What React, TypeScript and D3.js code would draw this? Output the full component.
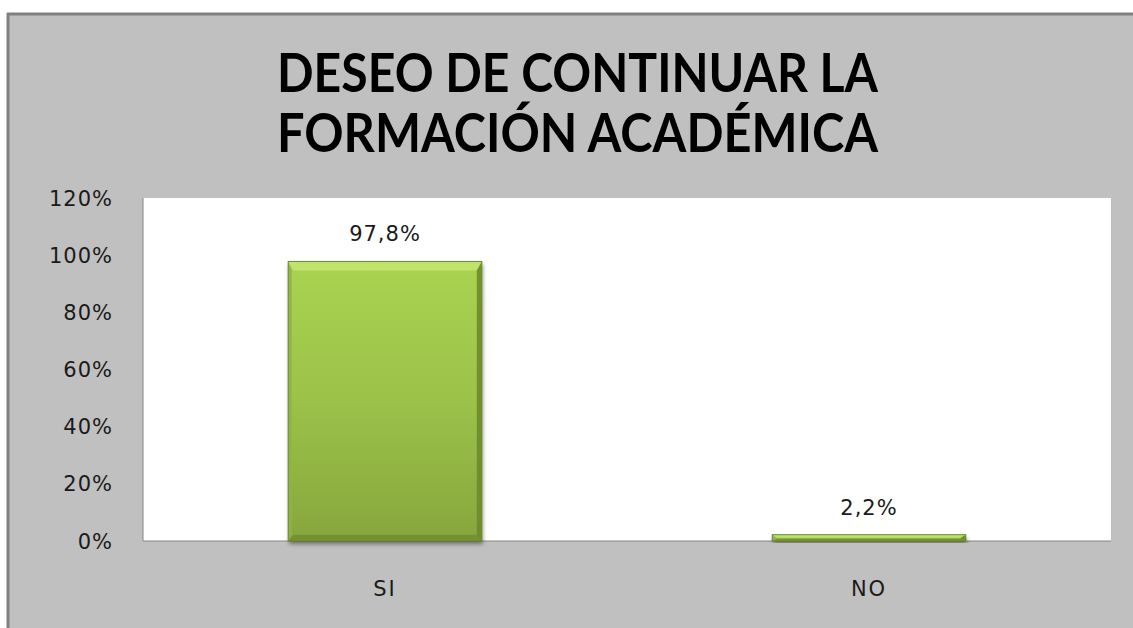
import React from "react";
import * as d3 from "d3";

const categories = ["SI", "NO"];
const values = [97.8, 2.2];
const valueLabels = ["97,8%", "2,2%"];
const yTicks = [0, 20, 40, 60, 80, 100, 120];
const titleLines = ["DESEO DE CONTINUAR LA", "FORMACIÓN ACADÉMICA"];

export default function App() {
  const width = 1133;
  const height = 628;
  const plot = { left: 143, right: 1111, top: 198, bottom: 541 };

  const x = d3
    .scaleBand<string>()
    .domain(categories)
    .range([plot.left, plot.right])
    .paddingInner(0.6)
    .paddingOuter(0.3);

  const y = d3.scaleLinear().domain([0, 120]).range([plot.bottom, plot.top]);

  const tickFont = "'DejaVu Sans', Verdana, sans-serif";

  return (
    <svg
      width={width}
      height={height}
      style={{ position: "absolute", left: 0, top: 0, display: "block" }}
    >
      <defs>
        <linearGradient id="barFill" x1="0" y1="0" x2="0" y2="1">
          <stop offset="0%" stopColor="#a9d351" />
          <stop offset="50%" stopColor="#9cc249" />
          <stop offset="100%" stopColor="#87a63d" />
        </linearGradient>
        <filter id="shadow" x="-10%" y="-10%" width="120%" height="130%">
          <feGaussianBlur in="SourceAlpha" stdDeviation="2" />
          <feOffset dx="1" dy="3" result="blur" />
          <feComponentTransfer>
            <feFuncA type="linear" slope="0.45" />
          </feComponentTransfer>
          <feMerge>
            <feMergeNode />
            <feMergeNode in="SourceGraphic" />
          </feMerge>
        </filter>
      </defs>

      {/* frame */}
      <rect x={0} y={0} width={width} height={height} fill="#ffffff" />
      <rect x={7} y={13} width={width - 7} height={height - 13} fill="#c0c0c0" />
      <line x1={7} x2={width} y1={14} y2={14} stroke="#808080" strokeWidth={3} />
      <line x1={8} x2={8} y1={13} y2={height} stroke="#808080" strokeWidth={3} />

      {/* title */}
      {titleLines.map((t, i) => (
        <text
          key={t}
          x={277}
          y={92 + i * 60}
          textLength={601}
          lengthAdjust="spacingAndGlyphs"
          fontFamily="Lato, 'Open Sans', sans-serif"
          fontWeight={700}
          fontSize={54}
          fill="#000"
        >
          {t}
        </text>
      ))}

      {/* plot area */}
      <rect
        x={plot.left}
        y={plot.top}
        width={plot.right - plot.left}
        height={plot.bottom - plot.top}
        fill="#ffffff"
      />
      <line x1={plot.left} x2={plot.left} y1={plot.top} y2={plot.bottom} stroke="#868686" />
      <line x1={plot.left} x2={plot.right} y1={plot.bottom} y2={plot.bottom} stroke="#868686" />

      {/* y ticks */}
      {yTicks.map((t) => (
        <text
          key={t}
          x={113}
          y={y(t)}
          dy="0.36em"
          textAnchor="end"
          fontFamily={tickFont}
          fontSize={21}
          letterSpacing={1}
          fill="#1a1a1a"
        >
          {t}%
        </text>
      ))}

      {/* bars */}
      {categories.map((c, i) => {
        const bx = x(c)!;
        const bw = x.bandwidth();
        const by = y(values[i]);
        const bh = plot.bottom - by;
        const bv = Math.min(9, bh / 2);
        const sv = Math.min(5, bw / 2);
        return (
          <g key={c}>
            <g filter="url(#shadow)">
              <rect x={bx} y={by} width={bw} height={bh} fill="url(#barFill)" />
            </g>
            {/* bevel: top light, bottom dark, left light, right dark */}
            <polygon
              points={`${bx},${by} ${bx + bw},${by} ${bx + bw - sv},${by + bv} ${bx + sv},${by + bv}`}
              fill="#c4e673"
              opacity={0.85}
            />
            <polygon
              points={`${bx},${by + bh} ${bx + bw},${by + bh} ${bx + bw - sv},${by + bh - bv * 0.7} ${bx + sv},${by + bh - bv * 0.7}`}
              fill="#6f8c30"
              opacity={0.8}
            />
            <polygon
              points={`${bx},${by} ${bx + sv * 0.7},${by + bv} ${bx + sv * 0.7},${by + bh - bv * 0.7} ${bx},${by + bh}`}
              fill="#8fb43f"
              opacity={0.9}
            />
            <polygon
              points={`${bx + bw},${by} ${bx + bw - sv},${by + bv} ${bx + bw - sv},${by + bh - bv * 0.7} ${bx + bw},${by + bh}`}
              fill="#6d8a2f"
              opacity={0.9}
            />
            <rect
              x={bx}
              y={by}
              width={bw}
              height={bh}
              fill="none"
              stroke="#6b8a2c"
              strokeWidth={1}
            />
            <text
              x={bx + bw / 2}
              y={by - 20}
              textAnchor="middle"
              fontFamily={tickFont}
              fontSize={21}
              letterSpacing={1}
              fill="#1a1a1a"
            >
              {valueLabels[i]}
            </text>
            <text
              x={bx + bw / 2}
              y={588}
              dy="0.36em"
              textAnchor="middle"
              fontFamily={tickFont}
              fontSize={21}
              letterSpacing={2}
              fill="#1a1a1a"
            >
              {c}
            </text>
          </g>
        );
      })}
    </svg>
  );
}
